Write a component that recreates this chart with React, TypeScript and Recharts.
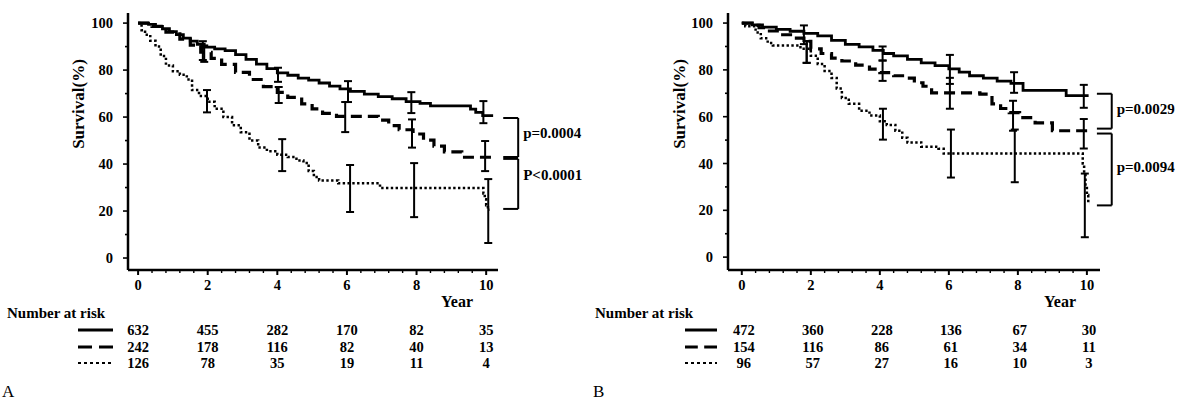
import React from "react";
import { ComposedChart, Line, Scatter, ErrorBar, XAxis, YAxis, ReferenceLine } from "recharts";

const SERIF = '"Liberation Serif", "Times New Roman", Times, serif';

// follow-up years shown on the axis and in the risk table
const years = [0, 2, 4, 6, 8, 10];

// Panel A: survival (%) step points [year, %]
const aSolid = [
  [0, 100], [0.3, 99.5], [0.5, 98.6], [0.7, 97.6], [0.9, 96.4], [1.1, 95.1], [1.3, 93.6], [1.5, 92.3],
  [1.7, 91], [1.9, 89.8], [2.2, 89], [2.5, 88.3], [2.8, 86.6], [3.1, 84.6], [3.4, 82.5], [3.7, 80.6],
  [4.0, 78.8], [4.3, 77.8], [4.6, 76.6], [4.9, 75.7], [5.2, 74.5], [5.5, 73.2], [5.8, 72], [6.1, 70.9],
  [6.5, 69.8], [6.9, 68.7], [7.3, 67.8], [7.7, 66.6], [8.1, 65.8], [8.4, 64.8], [9.55, 63.4], [9.7, 62],
  [9.9, 60.6], [10.2, 60.6],
];
const aDashed = [
  [0, 100], [0.4, 98.6], [0.8, 96.2], [1.2, 93.2], [1.5, 90.6], [1.8, 87.6], [2.1, 85], [2.4, 82.4],
  [2.8, 79], [3.2, 76], [3.6, 73], [4.0, 70.5], [4.3, 68.4], [4.7, 65.6], [5.0, 63.5], [5.3, 61.6],
  [5.7, 60.3], [6.9, 58.7], [7.2, 56.4], [7.5, 54.6], [7.9, 52.8], [8.2, 50.2], [8.5, 47.6], [8.8, 45.2],
  [9.3, 42.9], [10.2, 42.9],
];
const aDotted = [
  [0, 100], [0.1, 97], [0.2, 95], [0.35, 92.5], [0.5, 90], [0.65, 86], [0.8, 82], [1.0, 79.5], [1.2, 78],
  [1.4, 76], [1.55, 71.5], [1.75, 69], [2.0, 66.5], [2.2, 63.5], [2.45, 60], [2.7, 56.5], [2.95, 53.5],
  [3.2, 50], [3.45, 47], [3.7, 45.5], [4.0, 44], [4.3, 43], [4.55, 41.5], [4.75, 40.5], [4.9, 37],
  [5.05, 34.5], [5.2, 33], [5.75, 31.8], [6.95, 29.8], [9.92, 27.5], [9.96, 25], [10.0, 22.5],
  [10.05, 20.6], [10.1, 20.6],
];

// Panel B: survival (%) step points [year, %]
const bSolid = [
  [0, 100], [0.3, 99.2], [0.6, 98.3], [1.0, 97.3], [1.4, 96.5], [1.8, 95.6], [2.2, 94.5], [2.6, 92.6],
  [3.0, 90.9], [3.4, 89.8], [3.8, 88.3], [4.1, 87], [4.4, 86], [4.8, 84.5], [5.2, 83], [5.6, 81.8],
  [6.0, 80.4], [6.3, 79], [6.6, 77.5], [7.0, 76.5], [7.4, 75.2], [7.8, 74.2], [8.15, 71.2], [9.4, 69],
  [10.05, 69],
];
const bDashed = [
  [0, 100], [0.3, 99], [0.5, 98], [0.75, 96.6], [1.1, 95], [1.5, 93.6], [1.8, 92.2], [2.0, 89], [2.3, 87],
  [2.6, 85], [2.9, 83.8], [3.3, 82], [3.7, 80.3], [4.0, 78.8], [4.4, 77.5], [4.75, 76.5], [5.0, 74.5],
  [5.25, 73], [5.5, 70.2], [6.9, 69.6], [7.25, 65.5], [7.5, 63.5], [7.75, 61.7], [8.05, 59.6], [8.5, 57.4],
  [9.0, 54], [10.05, 54],
];
const bDotted = [
  [0, 100], [0.1, 98.6], [0.4, 96], [0.55, 93.5], [0.75, 91.5], [0.9, 90.4], [1.7, 89], [2.0, 86],
  [2.2, 82.5], [2.4, 79.5], [2.6, 76.5], [2.75, 72], [2.9, 68], [3.1, 65.5], [3.4, 62.5], [3.7, 60.5],
  [4.0, 58], [4.2, 56.5], [4.45, 54], [4.65, 51], [4.8, 49], [5.2, 47.2], [5.7, 46.3], [5.85, 44.3],
  [9.88, 40], [9.92, 36], [9.96, 31], [10.0, 26.5], [10.04, 23], [10.08, 23],
];

// 95% CI bars [year, low, high]
const ciASolid = [[1.86, 84.3, 92.3], [4.02, 75, 81], [6.03, 66.4, 75.3], [7.85, 61.7, 70.6], [9.92, 57.4, 66.8]];
const ciADashed = [[1.9, 83.5, 90.5], [4.04, 66, 72.8], [5.95, 53.6, 66.4], [7.87, 47, 59], [9.97, 37, 49.8]];
const ciADotted = [[1.98, 62, 71.5], [4.14, 37, 50.6], [6.09, 19.6, 39.6], [7.93, 17.4, 40.4], [10.06, 6.4, 33.6]];
const ciBSolid = [[1.8, 91, 99], [4.08, 84, 90], [6.03, 74, 86.4], [7.89, 70.2, 79], [9.91, 63.8, 73.6]];
const ciBDashed = [[1.88, 83, 92.3], [4.08, 75.3, 84], [6.03, 63.4, 76.6], [7.86, 54, 66.8], [9.91, 46.4, 59]];
const ciBDotted = [[1.88, 83, 92.3], [4.09, 50.2, 63.4], [6.06, 34, 54.5], [7.91, 32, 54.5], [9.94, 8.5, 35.7]];

// number at risk
const riskASolid = [632, 455, 282, 170, 82, 35];
const riskADashed = [242, 178, 116, 82, 40, 13];
const riskADotted = [126, 78, 35, 19, 11, 4];
const riskBSolid = [472, 360, 228, 136, 67, 30];
const riskBDashed = [154, 116, 86, 61, 34, 11];
const riskBDotted = [96, 57, 27, 16, 10, 3];

// log-rank brackets: [upper %, lower %]
const bracketsA = [[59.6, 43], [42.2, 20.9]];
const pTextA = ["p=0.0004", "P<0.0001"];
const bracketsB = [[69.8, 54.9], [52.8, 22.1]];
const pTextB = ["p=0.0029", "p=0.0094"];

const STROKES = [
  { dash: undefined, width: 2.8 },
  { dash: "11 6", width: 3.2 },
  { dash: "2.4 2.4", width: 2.5 },
];

const xTicks = Array.from({ length: 26 }, (_, i) => Math.round(i * 4) / 10);
const yTicks = [0, 10, 20, 30, 40, 50, 60, 70, 80, 90, 100];

const toPts = (rows: number[][]) => rows.map(([t, v]) => ({ t, v }));
const toCi = (rows: number[][]) => rows.map(([t, lo, hi]) => ({ t, v: (lo + hi) / 2, err: (hi - lo) / 2 }));

const txt = { fontFamily: SERIF, fontWeight: "bold" as const, fill: "#000" };

function YearTick(props: any) {
  const { x, y, payload, risks, riskShift } = props;
  const v = payload.value;
  const major = Number.isInteger(v) && v % 2 === 0;
  const col = years.indexOf(v);
  return (
    <g>
      <line x1={x} x2={x} y1={y} y2={y + (major ? 5 : 3)} stroke="#000" strokeWidth={major ? 2 : 1.4} />
      {major && (
        <text x={x} y={y + 20} textAnchor="middle" fontSize={14.5} {...txt}>
          {v}
        </text>
      )}
      {major &&
        col >= 0 &&
        risks.map((row: number[], i: number) => (
          <text key={i} x={x + riskShift} y={y + 65 + i * 16.5} textAnchor="middle" fontSize={14.5} {...txt}>
            {row[col]}
          </text>
        ))}
    </g>
  );
}

function PctTick(props: any) {
  const { x, y, payload } = props;
  const v = payload.value;
  const major = v % 20 === 0;
  return (
    <g>
      <line x1={x} x2={x - (major ? 5 : 3)} y1={y} y2={y} stroke="#000" strokeWidth={1.6} />
      {major && (
        <text x={x - 15} y={y + 5} textAnchor="end" fontSize={14.5} {...txt}>
          {v}
        </text>
      )}
    </g>
  );
}

function Panel(p: any) {
  const { width, left, right, xDomain, yDomain, curves, cis, risks, riskShift, stubs, brackets, pTexts, pDy } = p;

  const marks: any[] = [];
  brackets.forEach(([top, bottom]: number[], i: number) => {
    const seg = { stroke: "#000", strokeWidth: 2, ifOverflow: "visible" as const };
    marks.push(<ReferenceLine key={`t${i}`} segment={[{ x: stubs[0], y: top }, { x: stubs[1], y: top }]} {...seg} />);
    marks.push(
      <ReferenceLine key={`b${i}`} segment={[{ x: stubs[0], y: bottom }, { x: stubs[1], y: bottom }]} {...seg} />
    );
    marks.push(
      <ReferenceLine
        key={`v${i}`}
        segment={[{ x: stubs[1], y: top }, { x: stubs[1], y: bottom }]}
        {...seg}
        label={(lp: any) => {
          const vb = lp.viewBox || {};
          return (
            <text x={vb.x + 5} y={vb.y + vb.height / 2 + 5 + pDy[i]} fontSize={15} {...txt}>
              {pTexts[i]}
            </text>
          );
        }}
      />
    );
  });

  return (
    <ComposedChart width={width} height={411} margin={{ top: 13, right: width - right, bottom: 0, left: left - 60 }}>
      <XAxis
        dataKey="t"
        type="number"
        domain={xDomain}
        allowDataOverflow
        ticks={xTicks}
        interval={0}
        height={141}
        tickSize={0}
        tickMargin={0}
        tickLine={false}
        axisLine={{ stroke: "#000", strokeWidth: 2.5 }}
        tick={<YearTick risks={risks} riskShift={riskShift} />}
      />
      <YAxis
        type="number"
        domain={yDomain}
        allowDataOverflow
        ticks={yTicks}
        interval={0}
        width={60}
        tickSize={0}
        tickMargin={0}
        tickLine={false}
        axisLine={{ stroke: "#000", strokeWidth: 2.5 }}
        tick={<PctTick />}
      />
      {curves.map((c: number[][], i: number) => (
        <Line
          key={`c${i}`}
          data={toPts(c)}
          dataKey="v"
          type="stepAfter"
          stroke="#000"
          strokeWidth={STROKES[i].width}
          strokeDasharray={STROKES[i].dash}
          dot={false}
          activeDot={false}
          isAnimationActive={false}
        />
      ))}
      {cis.map((c: number[][], i: number) => (
        <Scatter key={`e${i}`} data={toCi(c)} dataKey="v" shape={() => <g />} isAnimationActive={false}>
          <ErrorBar dataKey="err" direction="y" width={4} stroke="#000" strokeWidth={2} isAnimationActive={false} />
        </Scatter>
      ))}
      {marks}
    </ComposedChart>
  );
}

function RiskKey({ x, w }: { x: number; w: number }) {
  return (
    <g stroke="#000">
      <line x1={x} x2={x + w} y1={330} y2={330} strokeWidth={3} />
      <line x1={x} x2={x + w} y1={347} y2={347} strokeWidth={3} strokeDasharray={`${w * 0.4} ${w * 0.2}`} />
      <line x1={x} x2={x + w} y1={363} y2={363} strokeWidth={2} strokeDasharray="3 3" />
    </g>
  );
}

export default function App() {
  return (
    <div style={{ position: "absolute", left: 0, top: 0, width: 1179, height: 411, background: "#fff" }}>
      <div style={{ position: "absolute", left: 0, top: 0 }}>
        <Panel
          width={590}
          left={128}
          right={498}
          xDomain={[-0.29, 10.34]}
          yDomain={[-5.1, 104.3]}
          curves={[aSolid, aDashed, aDotted]}
          cis={[ciASolid, ciADashed, ciADotted]}
          risks={[riskASolid, riskADashed, riskADotted]}
          riskShift={0}
          stubs={[10.49, 10.92]}
          brackets={bracketsA}
          pTexts={pTextA}
          pDy={[-5, -9]}
        />
      </div>
      <div style={{ position: "absolute", left: 590, top: 0 }}>
        <Panel
          width={589}
          left={138}
          right={510}
          xDomain={[-0.4, 10.38]}
          yDomain={[-5.5, 104.3]}
          curves={[bSolid, bDashed, bDotted]}
          cis={[ciBSolid, ciBDashed, ciBDotted]}
          risks={[riskBSolid, riskBDashed, riskBDotted]}
          riskShift={2}
          stubs={[10.29, 10.72]}
          brackets={bracketsB}
          pTexts={pTextB}
          pDy={[-2, -2]}
        />
      </div>
      <svg width={1179} height={411} style={{ position: "absolute", left: 0, top: 0, pointerEvents: "none" }}>
        <text transform="translate(84,104) rotate(-90)" textAnchor="middle" fontSize={17} {...txt}>
          Survival(%)
        </text>
        <text transform="translate(685,104) rotate(-90)" textAnchor="middle" fontSize={17} {...txt}>
          Survival(%)
        </text>
        <text x={457} y={307} textAnchor="middle" fontSize={16} {...txt}>
          Year
        </text>
        <text x={1060} y={307} textAnchor="middle" fontSize={16} {...txt}>
          Year
        </text>
        <text x={7} y={318} fontSize={15} {...txt}>
          Number at risk
        </text>
        <text x={595} y={318} fontSize={15} {...txt}>
          Number at risk
        </text>
        <RiskKey x={78} w={35} />
        <RiskKey x={685} w={32} />
        <text x={2} y={397} fontSize={17} fontFamily={SERIF} fill="#000">
          A
        </text>
        <text x={593} y={397} fontSize={17} fontFamily={SERIF} fill="#000">
          B
        </text>
      </svg>
    </div>
  );
}
